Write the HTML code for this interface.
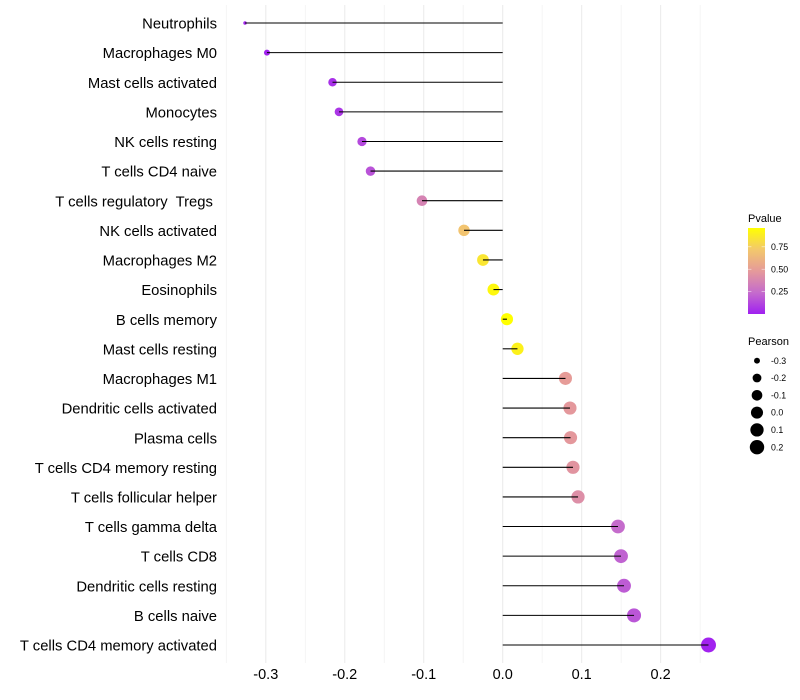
<!DOCTYPE html>
<html>
<head>
<meta charset="utf-8">
<style>
html,body{margin:0;padding:0;background:#fff;}
svg{display:block;font-family:"Liberation Sans",sans-serif;}
svg text{white-space:pre;}
</style>
</head>
<body>
<svg id="chart" width="800" height="700" viewBox="0 0 800 700" xmlns="http://www.w3.org/2000/svg">
  <rect width="800" height="700" fill="#ffffff"/>
  <g id="grid"></g>
  <g id="points"></g>
  <g id="segments"></g>
  <g id="ylabels"></g>
  <g id="xlabels"></g>
  <g id="color-legend">
    <text x="748" y="222" font-size="11" fill="#000">Pvalue</text>
    <defs><linearGradient id="pgrad" x1="0" y1="1" x2="0" y2="0"></linearGradient></defs>
    <rect x="748" y="228" width="17" height="86" fill="url(#pgrad)"/>
  </g>
  <g id="size-legend">
    <text x="748" y="345" font-size="11" fill="#000">Pearson</text>
  </g>
</svg>
<script>
const categories = ["Neutrophils","Macrophages M0","Mast cells activated","Monocytes","NK cells resting","T cells CD4 naive","T cells regulatory  Tregs ","NK cells activated","Macrophages M2","Eosinophils","B cells memory","Mast cells resting","Macrophages M1","Dendritic cells activated","Plasma cells","T cells CD4 memory resting","T cells follicular helper","T cells gamma delta","T cells CD8","Dendritic cells resting","B cells naive","T cells CD4 memory activated"];
const pearson = [-0.3263,-0.2985,-0.2155,-0.2073,-0.1782,-0.1674,-0.1022,-0.049,-0.025,-0.0117,0.0054,0.0187,0.0795,0.0852,0.0859,0.089,0.0954,0.146,0.1498,0.1536,0.1663,0.2606];
const pvalue = [0.02,0.01,0.05,0.07,0.13,0.16,0.36,0.7,0.85,0.93,0.96,0.9,0.49,0.47,0.47,0.45,0.42,0.24,0.21,0.19,0.17,0.01];
const majorTicks = [-0.3,-0.2,-0.1,0,0.1,0.2];
const minorTicks = [-0.35,-0.25,-0.15,-0.05,0.05,0.15,0.25];
const majorTickLabels = ["-0.3","-0.2","-0.1","0.0","0.1","0.2"];
const colorLegendTicks = [0.25,0.5,0.75];
const colorLegendLabels = ["0.25","0.50","0.75"];
const sizeLegendValues = [-0.3,-0.2,-0.1,0,0.1,0.2];
const sizeLegendLabels = ["-0.3","-0.2","-0.1","0.0","0.1","0.2"];

const NS = "http://www.w3.org/2000/svg";
const PMAX = 0.96;
const ramp = [[160,32,240],[197,108,204],[229,154,154],[243,200,108],[255,255,0]];
function xScale(v){ return 502.7 + 789.7 * v; }
function yScale(i){ return 23 + i * (622 / (categories.length - 1)); }
function pearsonMin(){ return Math.min.apply(null, pearson); }
function pearsonMax(){ return Math.max.apply(null, pearson); }
function diameter(v){
  const t = Math.max(0, (v - pearsonMin()) / (pearsonMax() - pearsonMin()));
  return 3.5 + 11.5 * Math.sqrt(t);
}
function colorAt(t){
  t = Math.max(0, Math.min(1, t));
  const s = t * (ramp.length - 1);
  const k = Math.min(ramp.length - 2, Math.floor(s));
  const f = s - k;
  const c = [0,1,2].map(function(j){ return Math.round(ramp[k][j] + (ramp[k+1][j] - ramp[k][j]) * f); });
  return "rgb(" + c.join(",") + ")";
}
function pColor(p){ return colorAt(p / PMAX); }
function make(tag, attrs, parent, text){
  const el = document.createElementNS(NS, tag);
  for (const k in attrs) el.setAttribute(k, attrs[k]);
  if (text !== undefined) el.textContent = text;
  parent.appendChild(el);
  return el;
}
const grid = document.getElementById("grid");
const pointsG = document.getElementById("points");
const segG = document.getElementById("segments");
const yG = document.getElementById("ylabels");
const xG = document.getElementById("xlabels");
const colorG = document.getElementById("color-legend");
const sizeG = document.getElementById("size-legend");

minorTicks.forEach(function(v){
  const el = make("line", {x1:xScale(v), x2:xScale(v), y1:5, y2:663, stroke:"#f2f2f2", "stroke-width":0.8}, grid);
  
  
});
majorTicks.forEach(function(v, i){
  const el = make("line", {x1:xScale(v), x2:xScale(v), y1:5, y2:663, stroke:"#ebebeb", "stroke-width":1.07}, grid);
  
  
  const t = make("text", {x:xScale(v), y:679, "font-size":14.5, "text-anchor":"middle", fill:"#000"}, xG, majorTickLabels[i]);
  
  
});
categories.forEach(function(name, i){
  const y = yScale(i);
  const t = make("text", {x:217, y:y + 5.6, "font-size":14.8, "text-anchor":"end", fill:"#000"}, yG, name);
  
  
  const c = make("circle", {cx:xScale(pearson[i]), cy:y, r:diameter(pearson[i]) / 2, fill:pColor(pvalue[i])}, pointsG);
  
  
  const l = make("line", {x1:xScale(0), x2:xScale(pearson[i]), y1:y, y2:y, stroke:"#000", "stroke-width":1.07}, segG);
  
  
});

const grad = document.getElementById("pgrad");
for (let i = 0; i <= 20; i++) {
  make("stop", {offset:(i * 5) + "%", "stop-color":colorAt(i / 20)}, grad);
}
function legendY(p){ return 314 - 86 * (p / PMAX); }
colorLegendTicks.forEach(function(p, i){
  const y = legendY(p);
  const a = make("line", {x1:748, x2:751.4, y1:y, y2:y, stroke:"#fff", "stroke-width":0.6, "stroke-opacity":0.8}, colorG);
  
  
  const b = make("line", {x1:761.6, x2:765, y1:y, y2:y, stroke:"#fff", "stroke-width":0.6, "stroke-opacity":0.8}, colorG);
  
  
  const t = make("text", {x:771, y:y + 3.1, "font-size":8.8, fill:"#000"}, colorG, colorLegendLabels[i]);
  
  
});
sizeLegendValues.forEach(function(v, i){
  const y = 360.7 + i * 17.3;
  const c = make("circle", {cx:757, cy:y, r:diameter(v) / 2, fill:"#000"}, sizeG);
  
  
  const t = make("text", {x:771, y:y + 3.1, "font-size":8.8, fill:"#000"}, sizeG, sizeLegendLabels[i]);
  
  
});
</script>
</body>
</html>
